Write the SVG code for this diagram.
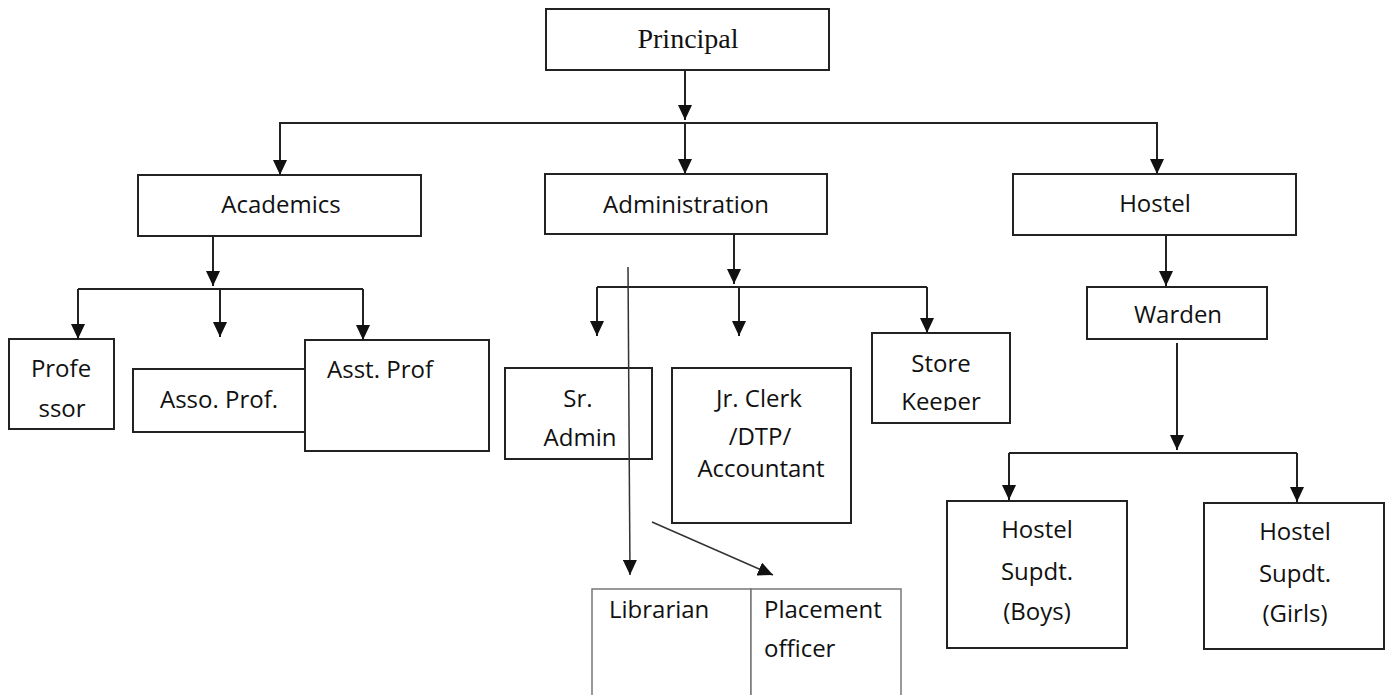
<svg xmlns="http://www.w3.org/2000/svg" width="1392" height="695" viewBox="0 0 1392 695">
<defs>
<style>
.box{fill:#fff;stroke:#222;stroke-width:2}
.thin{fill:#fff;stroke:#777;stroke-width:1.5}
.t{font-family:"Open Sans","Liberation Sans",sans-serif;font-size:24px;fill:#111}
.c{text-anchor:middle}
.serif{font-family:"Liberation Serif",serif;font-size:28px;fill:#111;text-anchor:middle}
.ln{fill:none;stroke:#222;stroke-width:2}
.lt{fill:none;stroke:#333;stroke-width:1.5}
</style>
<marker id="ah" viewBox="0 0 15 14" refX="15" refY="7" markerWidth="15" markerHeight="14" markerUnits="userSpaceOnUse" orient="auto">
<path d="M0,0 L15,7 L0,14 z" fill="#111"/>
</marker>
<clipPath id="skclip"><rect x="872" y="333" width="138" height="78"/></clipPath>
</defs>
<rect width="1392" height="695" fill="#fff"/>

<g id="principal"><rect class="box" x="546" y="9" width="283" height="61"/><text class="serif" x="688" y="48">Principal</text></g>
<g id="academics"><rect class="box" x="138" y="175" width="283" height="61"/><text class="t c" x="281" y="213">Academics</text></g>
<g id="administration"><rect class="box" x="545" y="174" width="282" height="60"/><text class="t c" x="686" y="213">Administration</text></g>
<g id="hostel"><rect class="box" x="1013" y="174" width="283" height="61"/><text class="t c" x="1155" y="212">Hostel</text></g>

<g id="professor"><rect class="box" x="9" y="339" width="105" height="90"/><text class="t c" x="61" y="377">Profe</text><text class="t c" x="62" y="417">ssor</text></g>
<g id="asso-prof"><rect class="box" x="133" y="369" width="172" height="63"/><text class="t c" x="219" y="408">Asso. Prof.</text></g>
<g id="asst-prof"><rect class="box" x="305" y="340" width="184" height="111"/><text class="t c" x="380" y="378">Asst. Prof</text></g>

<g id="sr-admin"><rect class="box" x="505" y="368" width="147" height="91"/><text class="t c" x="578" y="407">Sr.</text><text class="t c" x="580" y="446">Admin</text></g>
<g id="jr-clerk"><rect class="box" x="672" y="368" width="179" height="155"/><text class="t c" x="759" y="407">Jr. Clerk</text><text class="t c" x="760" y="445">/DTP/</text><text class="t c" x="761" y="477">Accountant</text></g>
<g id="store-keeper"><rect class="box" x="872" y="333" width="138" height="90"/><text class="t c" x="941" y="372">Store</text><text class="t c" x="941" y="410" clip-path="url(#skclip)">Keeper</text></g>

<g id="warden"><rect class="box" x="1087" y="287" width="180" height="52"/><text class="t c" x="1178" y="323">Warden</text></g>
<g id="supdt-boys"><rect class="box" x="947" y="501" width="180" height="147"/><text class="t c" x="1037" y="538">Hostel</text><text class="t c" x="1037" y="580">Supdt.</text><text class="t c" x="1037" y="620">(Boys)</text></g>
<g id="supdt-girls"><rect class="box" x="1204" y="503" width="180" height="146"/><text class="t c" x="1295" y="540">Hostel</text><text class="t c" x="1295" y="582">Supdt.</text><text class="t c" x="1295" y="622">(Girls)</text></g>

<g id="librarian"><rect class="thin" x="592" y="589" width="159" height="120"/><text class="t" x="609" y="618">Librarian</text></g>
<g id="placement"><rect class="thin" x="751" y="589" width="150" height="120"/><text class="t" x="764" y="618">Placement</text><text class="t" x="764" y="657">officer</text></g>

<g id="connectors">
<line class="ln" x1="685" y1="70" x2="685" y2="120" marker-end="url(#ah)"/>
<polyline class="ln" points="280,175 280,123 1157,123 1157,174" marker-end="url(#ah)"/>
<line class="ln" x1="280" y1="123" x2="280" y2="175" marker-end="url(#ah)"/>
<line class="ln" x1="685" y1="123" x2="685" y2="174" marker-end="url(#ah)"/>

<line class="ln" x1="213" y1="236" x2="213" y2="286" marker-end="url(#ah)"/>
<line class="ln" x1="78" y1="289" x2="363" y2="289"/>
<line class="ln" x1="78" y1="289" x2="78" y2="339" marker-end="url(#ah)"/>
<line class="ln" x1="220" y1="289" x2="220" y2="337" marker-end="url(#ah)"/>
<line class="ln" x1="363" y1="289" x2="363" y2="340" marker-end="url(#ah)"/>

<line class="ln" x1="734" y1="234" x2="734" y2="284" marker-end="url(#ah)"/>
<line class="ln" x1="597" y1="287" x2="927" y2="287"/>
<line class="ln" x1="597" y1="287" x2="597" y2="336" marker-end="url(#ah)"/>
<line class="ln" x1="739" y1="287" x2="739" y2="336" marker-end="url(#ah)"/>
<line class="ln" x1="927" y1="287" x2="927" y2="333" marker-end="url(#ah)"/>

<line class="lt" x1="628" y1="267" x2="630" y2="575" marker-end="url(#ah)"/>
<line class="lt" x1="652" y1="522" x2="773" y2="575" marker-end="url(#ah)"/>

<line class="ln" x1="1166" y1="235" x2="1166" y2="286" marker-end="url(#ah)"/>
<line class="ln" x1="1177" y1="343" x2="1177" y2="450" marker-end="url(#ah)"/>
<line class="ln" x1="1009" y1="453" x2="1297" y2="453"/>
<line class="ln" x1="1009" y1="453" x2="1009" y2="500" marker-end="url(#ah)"/>
<line class="ln" x1="1297" y1="453" x2="1297" y2="502" marker-end="url(#ah)"/>
</g>
</svg>
